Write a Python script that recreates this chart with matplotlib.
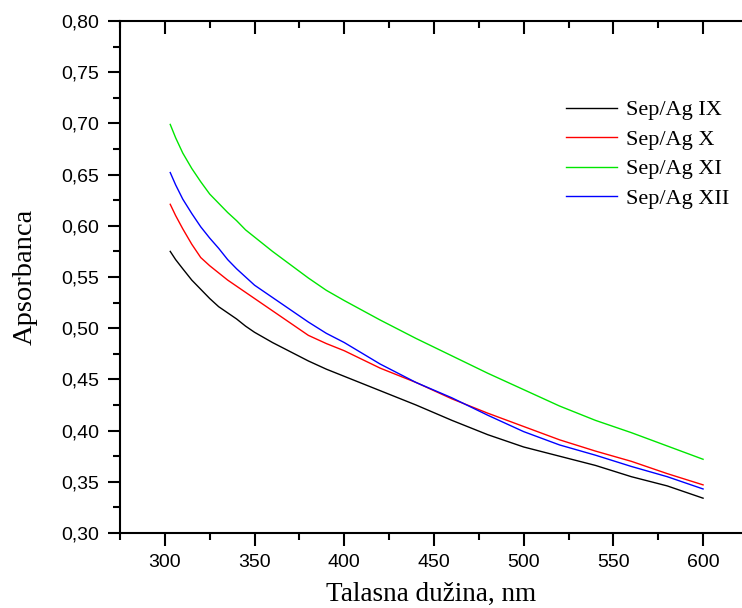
import matplotlib
matplotlib.use("Agg")
import matplotlib.pyplot as plt
from matplotlib.ticker import MultipleLocator, FuncFormatter

# wavelengths (nm) and absorbance
wl = [303, 306, 310, 315, 320, 325, 330, 335, 340, 345, 350, 360, 370, 380, 390, 400, 420, 440, 460, 480, 500, 520, 540, 560, 580, 600]
sep_ag_ix = [0.575, 0.567, 0.558, 0.547, 0.538, 0.529, 0.521, 0.515, 0.509, 0.502, 0.496, 0.486, 0.477, 0.468, 0.460, 0.453, 0.439, 0.425, 0.410, 0.396, 0.384, 0.375, 0.366, 0.355, 0.346, 0.334]
sep_ag_x = [0.621, 0.610, 0.597, 0.582, 0.569, 0.561, 0.554, 0.547, 0.541, 0.535, 0.529, 0.517, 0.505, 0.493, 0.485, 0.478, 0.461, 0.447, 0.431, 0.417, 0.404, 0.391, 0.380, 0.370, 0.358, 0.347]
sep_ag_xi = [0.699, 0.686, 0.671, 0.656, 0.643, 0.631, 0.622, 0.613, 0.605, 0.596, 0.589, 0.575, 0.562, 0.549, 0.537, 0.527, 0.508, 0.490, 0.473, 0.456, 0.440, 0.424, 0.410, 0.398, 0.385, 0.372]
sep_ag_xii = [0.652, 0.640, 0.626, 0.612, 0.599, 0.588, 0.578, 0.567, 0.558, 0.550, 0.542, 0.530, 0.518, 0.506, 0.495, 0.486, 0.465, 0.447, 0.432, 0.415, 0.399, 0.386, 0.376, 0.365, 0.355, 0.343]

labels = ["Sep/Ag IX", "Sep/Ag X", "Sep/Ag XI", "Sep/Ag XII"]
colors = ["black", "red", "#00e600", "blue"]

fig = plt.figure(figsize=(7.42, 6.08), dpi=100)
ax = fig.add_axes([120 / 742, 75 / 608, 1 - 120 / 742, 512 / 608])

for y, lab, c in zip([sep_ag_ix, sep_ag_x, sep_ag_xi, sep_ag_xii], labels, colors):
    ax.plot(wl, y, color=c, lw=1.0, label=lab)

ax.set_xlim(275, 621.7)
ax.set_ylim(0.30, 0.80)
ax.xaxis.set_major_locator(MultipleLocator(50))
ax.xaxis.set_minor_locator(MultipleLocator(25))
ax.yaxis.set_major_locator(MultipleLocator(0.05))
ax.yaxis.set_minor_locator(MultipleLocator(0.025))
ax.yaxis.set_major_formatter(FuncFormatter(lambda v, p: f"{v:.2f}".replace(".", ",")))

ax.spines["right"].set_visible(False)
for s in ["left", "bottom", "top"]:
    ax.spines[s].set_linewidth(1.5)

ax.tick_params(axis="both", which="major", direction="out", length=9, width=1.5,
               labelsize=14, pad=6)
ax.tick_params(axis="both", which="minor", direction="out", length=5, width=1.5)
ax.tick_params(axis="x", which="both", top=True)
# top ticks point inwards
for t in ax.xaxis.get_major_ticks() + ax.xaxis.get_minor_ticks():
    t.tick2line.set_marker(3)
for lbl in ax.get_xticklabels() + ax.get_yticklabels():
    lbl.set_family("Liberation Sans")

ax.set_xlabel("Talasna dužina, nm", family="Liberation Serif", fontsize=19.5, labelpad=8)
ax.set_ylabel("Apsorbanca", family="Liberation Serif", fontsize=20.5, labelpad=17)

leg = ax.legend(loc="upper left", bbox_to_anchor=(0.685, 0.885), frameon=False,
                prop={"family": "Liberation Serif", "size": 16}, handlelength=2.3,
                handletextpad=0.4, labelspacing=0.4)

fig.savefig("out.png", dpi=100)
